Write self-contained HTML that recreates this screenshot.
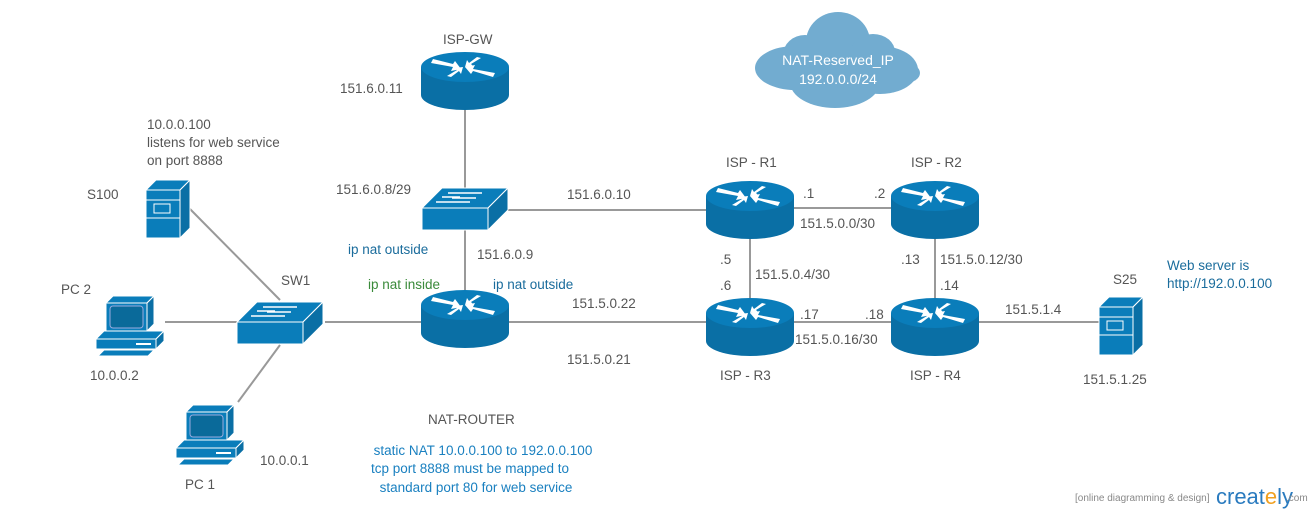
<!DOCTYPE html>
<html><head><style>
body{margin:0;background:#fff;}
svg{display:block;font-family:"Liberation Sans",sans-serif;}
</style></head><body>
<svg width="1315" height="513" viewBox="0 0 1315 513">
<defs>
<g id="router">
<path d="M-44,0 L-44,28 A44,15 0 0 0 44,28 L44,0 Z" fill="#0a6fa5"/>
<ellipse cx="0" cy="0" rx="44" ry="15" fill="#0a7dba"/>
<g fill="#fff">
<polygon points="-34,-4 -12,0 -14,4 -4,2 -10,-6 -12,-3 -32,-8"/>
<polygon points="30,6 8,2 10,-2 0,0 6,7 8,4 28,10"/>
<polygon points="-14,10 -6,4 -4,7 -2,0 -10,1 -8,3 -18,9"/>
<polygon points="12,-10 4,-4 2,-7 0,0 8,-1 6,-3 16,-9"/>
</g>
</g>
<g id="switch">
<polygon points="-44,-8 -24,-28 42,-28 22,-8" fill="#0a7dba" stroke="#fff" stroke-width="1"/>
<rect x="-44" y="-8" width="66" height="22" fill="#0a7dba" stroke="#fff" stroke-width="1"/>
<polygon points="22,-8 42,-28 42,-6 22,14" fill="#0a6fa5" stroke="#fff" stroke-width="1"/>
<g stroke="#fff" stroke-width="1.5">
<line x1="-18" y1="-23" x2="16" y2="-23"/><line x1="-30" y1="-14" x2="4" y2="-14"/>
<line x1="-14" y1="-18" x2="10" y2="-18"/><line x1="-24" y1="-19" x2="-6" y2="-19"/>
</g>
</g>
<g id="server">
<polygon points="0,10 10,0 44,0 34,10" fill="#0a7dba" stroke="#fff"/>
<rect x="0" y="10" width="34" height="48" fill="#0a7dba" stroke="#fff"/>
<polygon points="34,10 44,0 44,48 34,58" fill="#0a6fa5" stroke="#fff"/>
<line x1="0" y1="20" x2="34" y2="20" stroke="#fff"/><line x1="0" y1="38" x2="34" y2="38" stroke="#fff"/>
<rect x="8" y="24" width="16" height="9" fill="none" stroke="#fff"/>
</g>
<g id="pc">
<polygon points="10,7 17,0 58,0 51,7" fill="#0a7dba" stroke="#fff"/>
<rect x="10" y="7" width="41" height="28" fill="#0a7dba" stroke="#fff"/>
<polygon points="51,7 58,0 58,28 51,35" fill="#0a6fa5" stroke="#fff"/>
<rect x="14" y="10" width="33" height="22" rx="3" fill="#0a6a9a" stroke="#9ad"/>
<polygon points="0,43 8,35 68,35 60,43" fill="#0a7dba" stroke="#fff"/>
<rect x="0" y="43" width="60" height="10" fill="#0a7dba" stroke="#fff"/>
<polygon points="60,43 68,35 68,45 60,53" fill="#0a6fa5" stroke="#fff"/>
<rect x="40" y="47" width="15" height="2" fill="#fff"/>
<polygon points="2,60 8,54 58,54 52,60" fill="#0a7dba" stroke="#fff"/>
</g>
</defs>
<g stroke="#999" stroke-width="2" fill="none">
<line x1="465" y1="100" x2="465" y2="200"/>
<line x1="465" y1="220" x2="465" y2="300"/>
<line x1="505" y1="210" x2="710" y2="210"/>
<line x1="790" y1="208" x2="895" y2="208"/>
<line x1="750" y1="225" x2="750" y2="300"/>
<line x1="935" y1="225" x2="935" y2="300"/>
<line x1="500" y1="322" x2="710" y2="322"/>
<line x1="790" y1="322" x2="895" y2="322"/>
<line x1="975" y1="322" x2="1100" y2="322"/>
<line x1="325" y1="322" x2="425" y2="322"/>
<line x1="165" y1="322" x2="237" y2="322"/>
<line x1="190" y1="209" x2="280" y2="300"/>
<line x1="280" y1="345" x2="238" y2="402"/>
</g>
<use href="#router" x="465" y="67"/>
<use href="#router" x="465" y="305"/>
<use href="#router" x="750" y="196"/>
<use href="#router" x="935" y="196"/>
<use href="#router" x="750" y="313"/>
<use href="#router" x="935" y="313"/>
<use href="#switch" x="466" y="216"/>
<use href="#switch" x="281" y="330"/>
<use href="#server" x="146" y="180"/>
<use href="#server" x="1099" y="297"/>
<use href="#pc" x="96" y="296"/>
<use href="#pc" x="176" y="405"/>
<g fill="#72acd0">
<ellipse cx="838" cy="42" rx="32" ry="30"/>
<ellipse cx="795" cy="68" rx="40" ry="22"/>
<ellipse cx="880" cy="70" rx="38" ry="24"/>
<ellipse cx="835" cy="82" rx="45" ry="26"/>
<ellipse cx="805" cy="55" rx="22" ry="20"/>
<ellipse cx="873" cy="52" rx="22" ry="18"/>
<ellipse cx="905" cy="73" rx="15" ry="10"/>
</g>
<g fill="#fff" font-size="14" text-anchor="middle">
<text x="838" y="65">NAT-Reserved_IP</text>
<text x="838" y="84">192.0.0.0/24</text>
</g>
<g fill="#555" font-size="13.5">
<text x="443" y="44">ISP-GW</text>
<text x="340" y="93">151.6.0.11</text>
<text x="147" y="129">10.0.0.100</text>
<text x="147" y="147">listens for web service</text>
<text x="147" y="165">on port 8888</text>
<text x="87" y="199">S100</text>
<text x="336" y="194">151.6.0.8/29</text>
<text x="567" y="199">151.6.0.10</text>
<text x="726" y="167">ISP - R1</text>
<text x="911" y="167">ISP - R2</text>
<text x="803" y="198">.1</text>
<text x="874" y="198">.2</text>
<text x="800" y="228">151.5.0.0/30</text>
<text x="477" y="259">151.6.0.9</text>
<text x="720" y="264">.5</text>
<text x="720" y="290">.6</text>
<text x="755" y="279">151.5.0.4/30</text>
<text x="901" y="264">.13</text>
<text x="940" y="264">151.5.0.12/30</text>
<text x="940" y="290">.14</text>
<text x="61" y="294">PC 2</text>
<text x="281" y="285">SW1</text>
<text x="572" y="308">151.5.0.22</text>
<text x="800" y="319">.17</text>
<text x="865" y="319">.18</text>
<text x="795" y="344">151.5.0.16/30</text>
<text x="1005" y="314">151.5.1.4</text>
<text x="1113" y="284">S25</text>
<text x="567" y="364">151.5.0.21</text>
<text x="90" y="380">10.0.0.2</text>
<text x="720" y="380">ISP - R3</text>
<text x="910" y="380">ISP - R4</text>
<text x="1083" y="384">151.5.1.25</text>
<text x="428" y="424">NAT-ROUTER</text>
<text x="260" y="465">10.0.0.1</text>
<text x="185" y="489">PC 1</text>
</g>
<g fill="#1a6c9c" font-size="13.5">
<text x="348" y="254">ip nat outside</text>
<text x="493" y="289">ip nat outside</text>
<text x="1167" y="270">Web server is</text>
<text x="1167" y="288">http://192.0.0.100</text>
</g>
<text x="368" y="289" fill="#3a8a3a" font-size="13.5">ip nat inside</text>
<g fill="#1a80c0" font-size="13.5" text-anchor="middle">
<text x="483" y="455">static NAT 10.0.0.100 to 192.0.0.100</text>
<text x="470" y="473">tcp port 8888 must be mapped to</text>
<text x="476" y="492">standard port 80 for web service</text>
</g>
<text x="1075" y="501" fill="#888" font-size="10">[online diagramming &amp; design]</text>
<text x="1216" y="504" fill="#2a7bbf" font-size="22">creat<tspan fill="#f0a020">e</tspan>ly</text>
<text x="1286" y="501" fill="#888" font-size="10">.com</text>
</svg>
</body></html>
